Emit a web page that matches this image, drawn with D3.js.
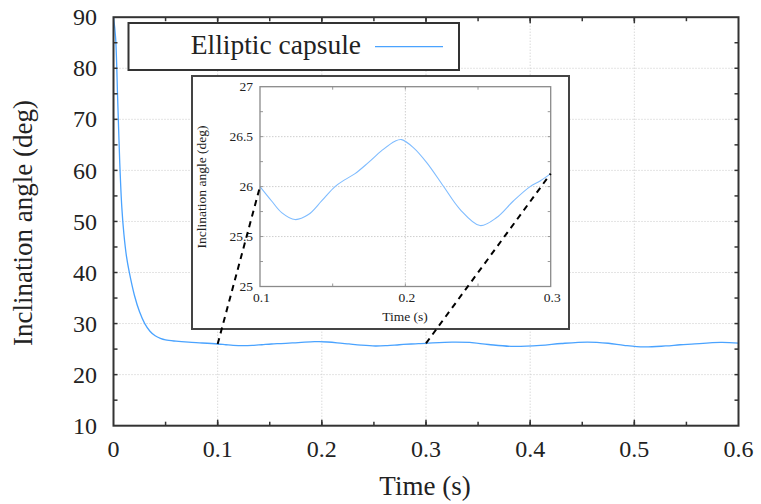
<!DOCTYPE html>
<html>
<head>
<meta charset="utf-8">
<script src="https://cdn.jsdelivr.net/npm/d3@7"></script>
<style>
  html, body { margin: 0; padding: 0; background: #fff; }
  svg { display: block; }
  text { font-family: "Liberation Serif", "DejaVu Serif", serif; fill: #222; }
</style>
</head>
<body>
<svg id="chart" width="761" height="504"></svg>
<script>
// Inclination angle of the elliptic capsule over time
const time = [0, 0.002, 0.004, 0.006, 0.008, 0.010, 0.0125, 0.015, 0.02, 0.025, 0.03, 0.035, 0.04, 0.045, 0.05, 0.06, 0.072, 0.085,
  0.1, 0.108, 0.1149, 0.1241, 0.1333, 0.1424, 0.1516, 0.1585, 0.1654, 0.1745, 0.1837, 0.1929, 0.1975,
  0.2055, 0.2147, 0.2261, 0.2376, 0.2514, 0.2628, 0.2743, 0.2858, 0.2927,
  0.3, 0.325, 0.342, 0.36, 0.384, 0.41, 0.43, 0.455, 0.475, 0.49, 0.509, 0.53, 0.544,
  0.555, 0.583, 0.6];
const angle = [90, 86, 74, 61.5, 52.7, 47.5, 43.1, 40.2, 35.6, 32.3, 30.0, 28.5, 27.6, 27.1, 26.8, 26.55, 26.35, 26.2,
  26.0, 25.856, 25.74, 25.67, 25.72, 25.856, 26.0, 26.07, 26.13, 26.24, 26.36, 26.455, 26.47,
  26.39, 26.24, 26.006, 25.773, 25.61, 25.69, 25.856, 26.0, 26.056,
  26.13, 26.38, 26.3, 25.9, 25.52, 25.72, 26.1, 26.38, 26.15, 25.75, 25.42, 25.62, 25.85,
  25.98, 26.3, 26.18];

const xTicks = [0, 0.1, 0.2, 0.3, 0.4, 0.5, 0.6];
const yTicks = [10, 20, 30, 40, 50, 60, 70, 80, 90];
const insetXTicks = [0.1, 0.2, 0.3];
const insetYTicks = [25, 25.5, 26, 26.5, 27];
const seriesName = "Elliptic capsule";
const zoomRange = [0.1, 0.3];

const lineColor = "#4aa3ff";
const data = time.map((t, i) => ({ t, a: angle[i] }));

const svg = d3.select("#chart");

// ---- main axes ----
const x = d3.scaleLinear().domain([0, 0.6]).range([113.5, 738.5]);
const y = d3.scaleLinear().domain([10, 90]).range([425.7, 17.2]);
const [x0, x1] = x.range();
const [y0, y1] = y.range();

const grid = svg.append("g").attr("stroke", "#c8c8c8").attr("stroke-width", 1).attr("stroke-dasharray", "1,2");
xTicks.slice(1, -1).forEach(v => grid.append("line").attr("x1", x(v)).attr("x2", x(v)).attr("y1", y0).attr("y2", y1));
yTicks.slice(1, -1).forEach(v => grid.append("line").attr("x1", x0).attr("x2", x1).attr("y1", y(v)).attr("y2", y(v)));

const line = d3.line().x(d => x(d.t)).y(d => y(d.a)).curve(d3.curveCatmullRom.alpha(0.5));
svg.append("path").datum(data).attr("d", line)
  .attr("fill", "none").attr("stroke", lineColor).attr("stroke-width", 1.3);

// ticks pointing inwards on all four sides
function frameTicks(g, xs, ys, xMinor, yMinor, lenMinor, color, w) {
  const xsr = xs.range(), ysr = ys.range();
  const t = g.append("g").attr("stroke", color).attr("stroke-width", w);
  const addX = (v, L) => {
    t.append("line").attr("x1", xs(v)).attr("x2", xs(v)).attr("y1", ysr[0]).attr("y2", ysr[0] - L);
    t.append("line").attr("x1", xs(v)).attr("x2", xs(v)).attr("y1", ysr[1]).attr("y2", ysr[1] + L);
  };
  const addY = (v, L) => {
    t.append("line").attr("y1", ys(v)).attr("y2", ys(v)).attr("x1", xsr[0]).attr("x2", xsr[0] + L);
    t.append("line").attr("y1", ys(v)).attr("y2", ys(v)).attr("x1", xsr[1]).attr("x2", xsr[1] - L);
  };
  xMinor.forEach(v => addX(v, lenMinor));
  yMinor.forEach(v => addY(v, lenMinor));
}

const main = svg.append("g");
const mainXMinor = d3.range(1, 12).map(i => i * 0.05);
const mainYMinor = d3.range(3, 18).map(i => i * 5);
frameTicks(main, x, y, mainXMinor, mainYMinor, 4, "#333", 1.5);
xTicks.slice(1, -1).forEach(v => {
  main.append("line").attr("x1", x(v)).attr("x2", x(v)).attr("y1", y0).attr("y2", y0 - 6).attr("stroke", "#333").attr("stroke-width", 1.5);
  main.append("line").attr("x1", x(v)).attr("x2", x(v)).attr("y1", y1).attr("y2", y1 + 6).attr("stroke", "#333").attr("stroke-width", 1.5);
});
main.append("rect").attr("x", x0).attr("y", y1).attr("width", x1 - x0).attr("height", y0 - y1)
  .attr("fill", "none").attr("stroke", "#333").attr("stroke-width", 2);

main.selectAll("text.xt").data(xTicks).join("text")
  .attr("x", d => x(d)).attr("y", 457).attr("text-anchor", "middle")
  .attr("font-size", 24).text(d => d3.format("")(d));
main.selectAll("text.yt").data(yTicks).join("text")
  .attr("x", 97).attr("y", d => y(d)).attr("dy", "0.34em").attr("text-anchor", "end")
  .attr("font-size", 24).text(d => d);

main.append("text").attr("x", 425).attr("y", 495).attr("text-anchor", "middle")
  .attr("font-size", 27).text("Time (s)");
main.append("text").attr("transform", "translate(32,223) rotate(-90)").attr("text-anchor", "middle")
  .attr("font-size", 27).text("Inclination angle (deg)");

// ---- legend ----
const leg = svg.append("g");
leg.append("rect").attr("x", 128.5).attr("y", 23).attr("width", 330.5).attr("height", 47)
  .attr("fill", "#fff").attr("stroke", "#333").attr("stroke-width", 2);
leg.append("text").attr("x", 361).attr("y", 53.5).attr("text-anchor", "end").attr("font-size", 27.5).text(seriesName);
leg.append("line").attr("x1", 375).attr("x2", 443).attr("y1", 46.7).attr("y2", 46.7)
  .attr("stroke", lineColor).attr("stroke-width", 1.3);

// ---- inset: zoom on 0.1 – 0.3 s ----
const inset = svg.append("g");
inset.append("rect").attr("x", 192).attr("y", 76).attr("width", 377).attr("height", 253)
  .attr("fill", "#fff").attr("stroke", "#444").attr("stroke-width", 2);

const xi = d3.scaleLinear().domain(zoomRange).range([260, 550.7]);
const yi = d3.scaleLinear().domain([25, 27]).range([286.5, 86.7]);
const [xi0, xi1] = xi.range();
const [yi0, yi1] = yi.range();

const gi = inset.append("g").attr("stroke", "#cfcfcf").attr("stroke-width", 1).attr("stroke-dasharray", "1.5,1.5");
insetXTicks.slice(1, -1).forEach(v => gi.append("line").attr("x1", xi(v)).attr("x2", xi(v)).attr("y1", yi0).attr("y2", yi1));
insetYTicks.slice(1, -1).forEach(v => gi.append("line").attr("x1", xi0).attr("x2", xi1).attr("y1", yi(v)).attr("y2", yi(v)));

const insetData = data.filter(d => d.t >= zoomRange[0] - 1e-9 && d.t <= zoomRange[1] + 1e-9);
const lineI = d3.line().x(d => xi(d.t)).y(d => yi(d.a)).curve(d3.curveCatmullRom.alpha(0.5));
inset.append("path").datum(insetData).attr("d", lineI)
  .attr("fill", "none").attr("stroke", "#7fbcff").attr("stroke-width", 1.1);

frameTicks(inset, xi, yi, [0.15, 0.2, 0.25], d3.range(1, 8).map(i => 25 + i * 0.25), 3, "#999", 1);
inset.append("rect").attr("x", xi0).attr("y", yi1).attr("width", xi1 - xi0).attr("height", yi0 - yi1)
  .attr("fill", "none").attr("stroke", "#8a8a8a").attr("stroke-width", 1.3);

inset.selectAll("text.ixt").data(insetXTicks).join("text")
  .attr("x", d => xi(d) + 1.5).attr("y", 302).attr("text-anchor", "middle")
  .attr("font-size", 13.5).attr("fill", "#333").text(d => d);
inset.selectAll("text.iyt").data(insetYTicks).join("text")
  .attr("x", 253).attr("y", d => yi(d)).attr("dy", "0.34em").attr("text-anchor", "end")
  .attr("font-size", 13.5).attr("fill", "#333").text(d => d);
inset.append("text").attr("x", 405).attr("y", 321).attr("text-anchor", "middle")
  .attr("font-size", 13.5).attr("fill", "#333").text("Time (s)");
inset.append("text").attr("transform", "translate(206,187) rotate(-90)").attr("text-anchor", "middle")
  .attr("font-size", 13.5).attr("fill", "#333").text("Inclination angle (deg)");

// ---- connector lines from the main curve to the inset ----
const valueAt = t => data.find(d => Math.abs(d.t - t) < 1e-9).a;
zoomRange.forEach(t => {
  const a = valueAt(t);
  svg.append("line")
    .attr("x1", x(t)).attr("y1", y(a)).attr("x2", xi(t)).attr("y2", yi(a))
    .attr("stroke", "#000").attr("stroke-width", 2).attr("stroke-dasharray", "6,5");
});
</script>
</body>
</html>
